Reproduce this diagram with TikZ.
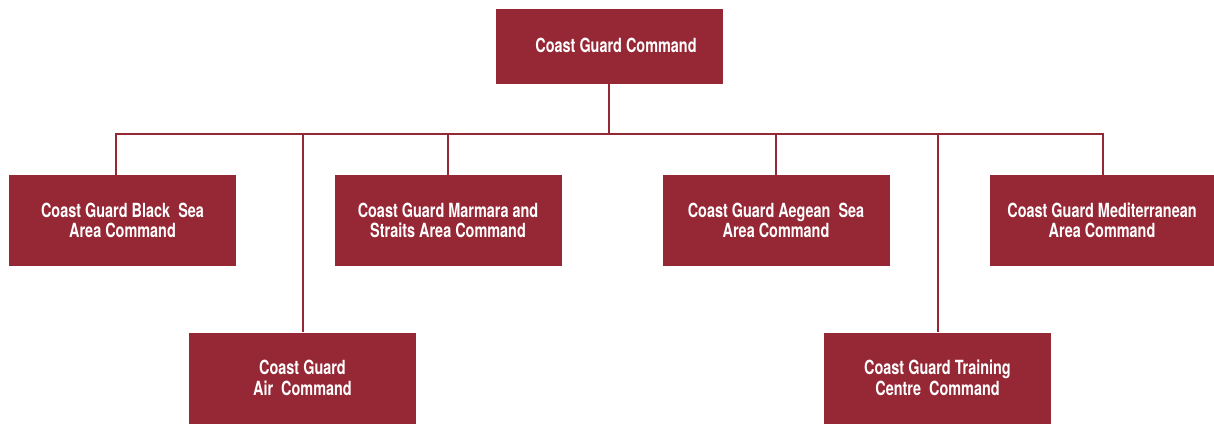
\documentclass[tikz,border=0pt]{standalone}
\usepackage{fontspec}
\setmainfont{TeX Gyre Heros}[FakeStretch=0.74]
\definecolor{cgred}{HTML}{962735}
\begin{document}
\begin{tikzpicture}[x=1pt,y=-1pt,
  box/.style={fill=cgred,draw=none,minimum width=227pt,minimum height=91pt,inner sep=0pt,
    text=white,align=center,font=\bfseries\fontsize{19.5}{20.5}\selectfont},
  conn/.style={draw=cgred,line width=2pt}]
\useasboundingbox (0,0) rectangle (1214,423);
\node[box,minimum height=75pt] (top) at (609,46.5) {};
\node[text=white,font=\bfseries\fontsize{19.5}{20.5}\selectfont] (toplbl) at (616,45) {Coast Guard Command};
\node[box] (black) at (122.5,220.5) {Coast Guard Black\ \ Sea\\Area Command};
\node[box] (marm) at (448,220.5) {Coast Guard Marmara and\\Straits Area Command};
\node[box] (aeg) at (776,220.5) {Coast Guard Aegean\ \ Sea\\Area Command};
\node[box,minimum width=224pt] (med) at (1102,220.5) {Coast Guard Mediterranean\\Area Command};
\node[box] (air) at (302.5,378) {Coast Guard\\Air\ \ Command};
\node[box] (train) at (937.5,378) {Coast Guard Training\\Centre\ \ Command};
\coordinate (bus) at (609,134);
\draw[conn] (top.south) -- (bus);
\draw[conn] ([xshift=-6.5pt]black.north) -- ([xshift=-6.5pt]black.north |- bus) -- ([xshift=1pt]med.north |- bus) -- ([xshift=1pt]med.north);
\draw[conn] (marm.north) -- (marm.north |- bus);
\draw[conn] (aeg.north) -- (aeg.north |- bus);
\draw[conn] (air.north) -- (air.north |- bus);
\draw[conn] (train.north) -- (train.north |- bus);
\end{tikzpicture}
\end{document}
